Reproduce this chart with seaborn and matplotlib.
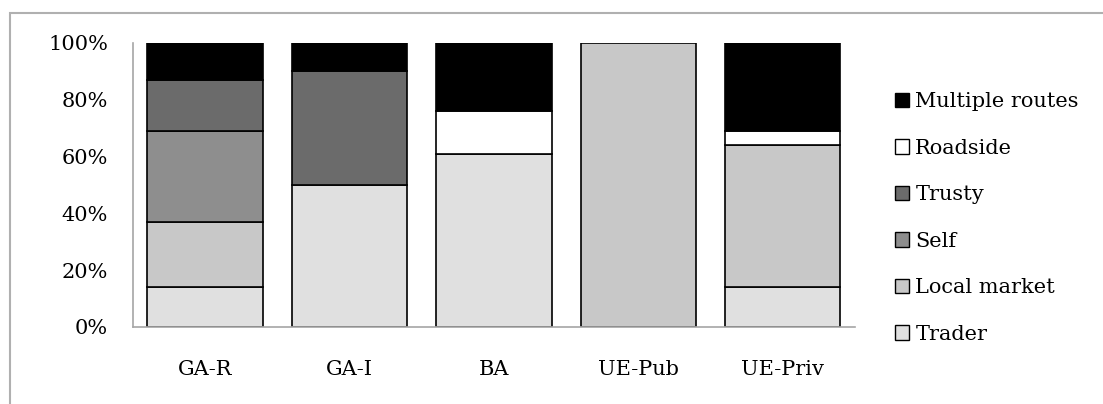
import matplotlib
matplotlib.use("Agg")
import matplotlib.pyplot as plt
import matplotlib.patches as mpatches
from matplotlib.ticker import FixedLocator, PercentFormatter
import numpy as np
import seaborn as sns

sns.set_style("white")
plt.rcParams['font.family'] = ['DejaVu Serif']
plt.rcParams['text.color'] = 'black'
plt.rcParams['xtick.labelcolor'] = 'black'
plt.rcParams['ytick.labelcolor'] = 'black'

sites = ["GA-R", "GA-I", "BA", "UE-Pub", "UE-Priv"]
routes = ["Trader", "Local market", "Self", "Trusty", "Roadside", "Multiple routes"]
trader = [14, 50, 61, 0, 14]
local_market = [23, 0, 0, 100, 50]
self_ = [32, 0, 0, 0, 0]
trusty = [18, 40, 0, 0, 0]
roadside = [0, 0, 15, 0, 5]
multiple_routes = [13, 10, 24, 0, 31]
colors = ["#e0e0e0", "#c8c8c8", "#8e8e8e", "#6b6b6b", "#ffffff", "#000000"]

series = [trader, local_market, self_, trusty, roadside, multiple_routes]

fig = plt.figure(figsize=(11.03, 4.04), dpi=100)
ax = fig.add_axes([0.1206, 0.1906, 0.6545, 0.703])

bottom = np.zeros(len(sites))
for vals, col in zip(series, colors):
    vals = np.array(vals, dtype=float)
    mask = vals > 0
    sns.barplot(x=np.array(sites)[mask], y=vals[mask], bottom=bottom[mask],
                order=sites, color=col, saturation=1, width=0.8,
                edgecolor="black", linewidth=1.2, ax=ax)
    bottom += vals

ax.set_ylim(0, 100)
ax.set_xlim(-0.5, len(sites) - 0.5)
ax.yaxis.set_major_locator(FixedLocator([0, 20, 40, 60, 80, 100]))
ax.yaxis.set_major_formatter(PercentFormatter(decimals=0))
ax.set_xlabel("")
ax.set_ylabel("")

grey = "#a6a6a6"
for s in ["top", "right"]:
    ax.spines[s].set_visible(False)
for s in ["left", "bottom"]:
    ax.spines[s].set_color(grey)
    ax.spines[s].set_linewidth(1.2)

ax.xaxis.set_minor_locator(FixedLocator(np.arange(-0.5, len(sites), 1.0)))
ax.tick_params(axis="x", which="major", length=0, pad=24, labelsize=15)
ax.tick_params(axis="x", which="minor", length=6, color=grey, width=1.2, direction="out")
ax.tick_params(axis="y", length=6, color=grey, width=1.2, direction="out", labelsize=15, pad=12)

handles = [mpatches.Patch(facecolor=c, edgecolor="black", linewidth=1, label=r)
           for r, c in zip(routes, colors)][::-1]
fig.legend(handles=handles, loc="upper left", bbox_to_anchor=(0.811, 0.772),
           frameon=False, fontsize=15, handlelength=0.7, handleheight=0.7,
           handletextpad=0.3, labelspacing=1.32, borderaxespad=0, borderpad=0)

# outer chart border
fig.patches.append(mpatches.Rectangle((0.009, -0.05), 1.2, 1.018, transform=fig.transFigure,
                                      fill=False, edgecolor="#b0b0b0", linewidth=1.5))

fig.savefig("out.png", dpi=100)
